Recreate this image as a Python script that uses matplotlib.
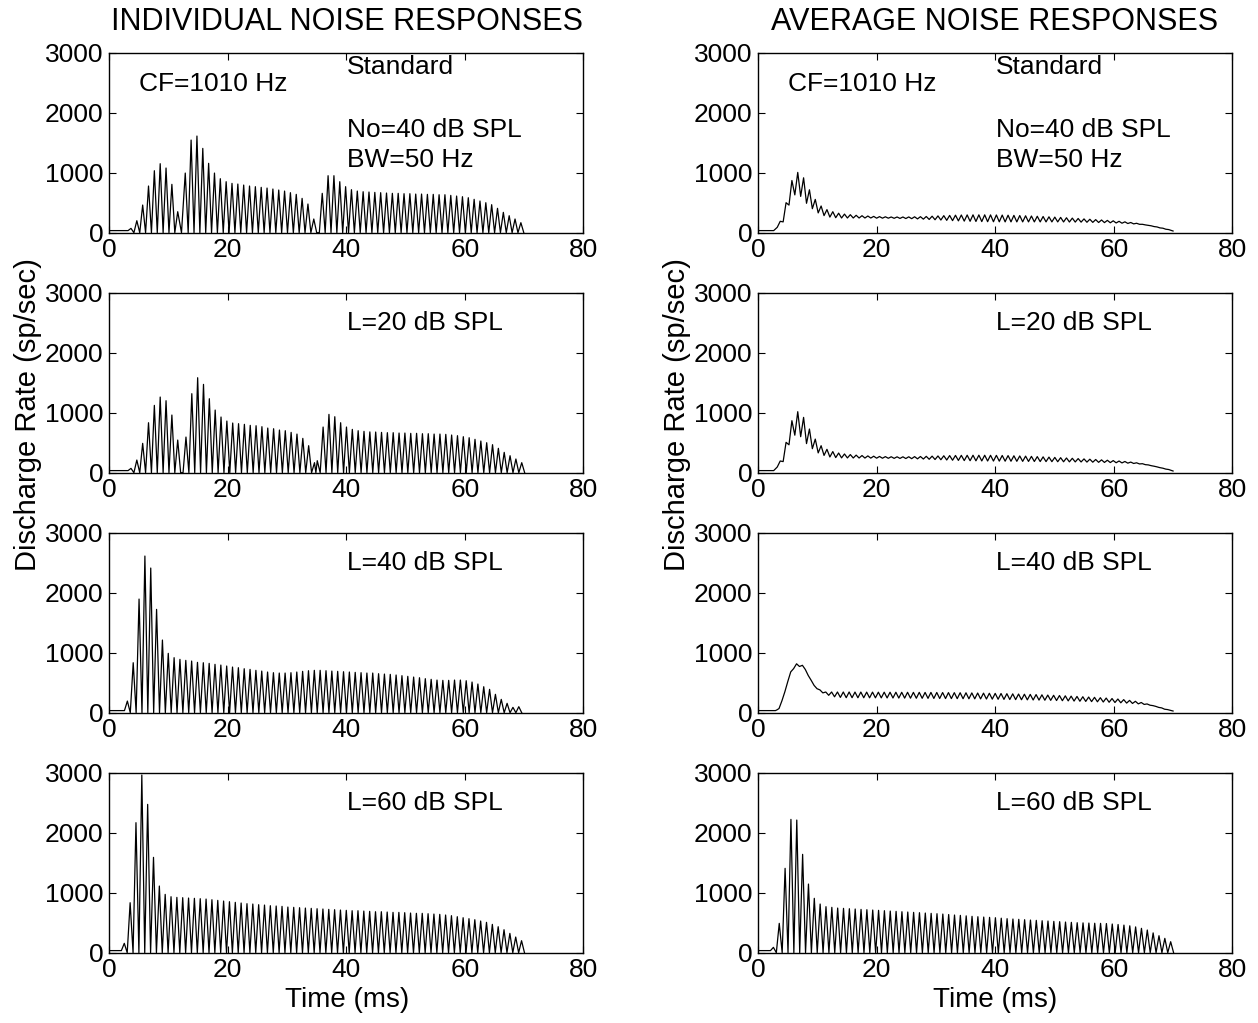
import numpy as np
import matplotlib
matplotlib.use('Agg')
import matplotlib.pyplot as plt

plt.rcParams['font.family'] = ['Liberation Sans', 'DejaVu Sans']

# period of the phase-locked response (CF = 1010 Hz), ms
T = 0.986
spont = 35

# ---- individual noise responses: peak heights per cycle, segment start times
ind_std_t0 = [3.66, 12.82, 35.94]
ind_std = [
    [72, 200, 461, 778, 1033, 1150, 1078, 806, 350],
    [994, 1544, 1611, 1405, 1156, 994, 900, 850, 822, 811, 794, 778, 767, 756,
     744, 728, 711, 694, 667, 639, 572, 478, 228],
    [656, 950, 950, 850, 767, 717, 694, 683, 678, 672, 667, 661, 656, 656, 650,
     650, 644, 644, 639, 639, 633, 633, 622, 611, 600, 583, 556, 528, 500, 467,
     406, 339, 283, 228, 167],
]
ind_20_t0 = [3.66, 12.94, 35.1]
ind_20 = [
    [72, 211, 489, 833, 1122, 1261, 1200, 961, 544],
    [594, 1317, 1583, 1472, 1233, 1044, 928, 861, 828, 817, 806, 789, 783, 767,
     744, 733, 711, 700, 672, 644, 572, 450, 167],
    [200, 761, 972, 933, 833, 761, 722, 700, 689, 680, 678, 672, 667, 667, 661,
     661, 656, 656, 650, 650, 644, 644, 639, 628, 617, 600, 583, 556, 528, 500,
     467, 406, 339, 283, 228, 167],
]
ind_40_t0 = [3.05]
ind_40 = [[194, 833, 1894, 2611, 2411, 1722, 1211, 989, 917, 889,
           872, 861, 839, 833, 822, 806, 794, 778, 761, 750,
           733, 722, 706, 694, 678, 667, 661, 661, 667, 678,
           689, 700, 706, 706, 700, 694, 689, 683, 678, 672,
           667, 661, 661, 650, 644, 639, 628, 617, 606, 594,
           583, 567, 556, 544, 539, 539, 544, 544, 533, 511,
           478, 433, 389, 306, 222, 156, 89, 100]]
ind_60_t0 = [2.53]
ind_60 = [[156, 833, 2167, 2961, 2472, 1589, 1111, 972, 933, 922,
           917, 911, 906, 900, 894, 883, 872, 861, 850, 839,
           828, 817, 811, 800, 794, 783, 778, 772, 761, 756,
           750, 744, 739, 733, 728, 722, 717, 711, 706, 700,
           700, 694, 689, 683, 683, 678, 672, 672, 667, 661,
           656, 656, 650, 644, 639, 628, 617, 600, 583, 567,
           550, 528, 506, 472, 433, 383, 322, 261, 200]]

# ---- average noise responses: ripple peaks and troughs per cycle
avg_std_onset_t = [0, 2.6, 3.2]
avg_std_onset_v = [35, 35, 90]
avg_std_t0 = 3.7
avg_std_pk = [190, 500, 870, 1005, 915, 715, 555, 445, 385, 350,
              325, 310, 300, 290, 283, 278, 272, 268, 265, 262,
              262, 262, 263, 265, 267, 270, 275, 280, 284, 288,
              292, 295, 297, 298, 298, 298, 297, 296, 294, 292,
              289, 286, 282, 278, 274, 270, 265, 260, 255, 249,
              243, 237, 230, 224, 218, 212, 205, 198, 190, 181,
              170, 157, 140, 122, 102, 80, 58]
avg_std_tr = [180, 460, 630, 605, 490, 400, 330, 285, 260, 250,
              245, 245, 245, 245, 245, 245, 242, 242, 242, 240,
              238, 236, 234, 230, 226, 221, 216, 211, 206, 201,
              197, 193, 190, 187, 185, 183, 182, 181, 180, 180,
              180, 180, 180, 180, 180, 180, 180, 180, 179, 178,
              177, 176, 174, 172, 170, 168, 165, 162, 158, 153,
              147, 140, 130, 115, 96, 75, 52]

avg_20_onset_t = [0, 2.6, 3.2]
avg_20_onset_v = [35, 35, 95]
avg_20_t0 = 3.7
avg_20_pk = [195, 506, 867, 1017, 922, 728, 560, 450, 390, 352,
             328, 312, 302, 293, 286, 280, 275, 271, 268, 266,
             265, 265, 266, 268, 270, 273, 276, 279, 282, 285,
             287, 289, 290, 291, 291, 291, 290, 289, 287, 285,
             282, 279, 276, 272, 268, 264, 260, 255, 250, 245,
             240, 235, 230, 225, 220, 214, 208, 202, 195, 187,
             177, 165, 150, 130, 108, 84, 60]
avg_20_tr = [185, 465, 625, 600, 485, 400, 330, 288, 262, 252,
             247, 246, 245, 245, 244, 243, 242, 241, 240, 239,
             238, 236, 234, 231, 228, 224, 220, 216, 212, 208,
             205, 202, 200, 198, 196, 195, 194, 193, 192, 191,
             190, 189, 188, 187, 186, 185, 184, 183, 182, 181,
             180, 179, 177, 175, 173, 171, 169, 166, 163, 159,
             154, 146, 134, 117, 97, 75, 53]

avg_40_onset_t = [0, 2.9, 3.2]
avg_40_onset_v = [35, 35, 50]
avg_40_t0 = 3.5
avg_40_pk = [70, 350, 680, 815, 790, 620, 455, 380, 345, 345,
             345, 345, 345, 344, 344, 343, 343, 342, 342, 341,
             341, 340, 340, 339, 339, 338, 338, 337, 336, 335,
             334, 333, 332, 330, 328, 326, 324, 322, 320, 317,
             314, 311, 308, 305, 302, 298, 294, 290, 286, 281,
             276, 271, 266, 261, 256, 250, 244, 236, 228, 218,
             205, 190, 170, 146, 118, 88, 58]
avg_40_tr = [200, 520, 735, 770, 720, 540, 400, 330, 290, 265,
             255, 250, 250, 249, 249, 248, 248, 247, 246, 245,
             244, 243, 242, 241, 240, 239, 238, 237, 236, 235,
             234, 233, 232, 231, 230, 228, 226, 224, 222, 220,
             218, 216, 214, 212, 210, 208, 206, 203, 200, 197,
             194, 191, 188, 185, 182, 178, 174, 170, 165, 160,
             154, 147, 138, 125, 105, 80, 52]
avg_end = (70.0, 28)

avg_60_t0 = [2.55]
avg_60 = [[89, 489, 1406, 2222, 2211, 1639, 1144, 906, 811, 767,
           756, 744, 739, 733, 728, 722, 717, 711, 706, 700,
           694, 689, 683, 678, 672, 667, 661, 656, 650, 644,
           636, 628, 622, 614, 606, 600, 594, 589, 583, 575,
           567, 561, 556, 550, 544, 539, 533, 528, 522, 517,
           511, 506, 500, 497, 494, 491, 489, 486, 478, 470,
           460, 448, 430, 406, 378, 330, 283, 239, 183]]

panel_labels = [['Standard', 'No=40 dB SPL', 'BW=50 Hz'],
                ['L=20 dB SPL'], ['L=40 dB SPL'], ['L=60 dB SPL']]


def spikes(t0s, segs):
    pt, pv = [], []
    for t0, seg in zip(t0s, segs):
        for k, h in enumerate(seg):
            pt.append(t0 + k * T)
            pv.append(h)
    t = [0, pt[0] - T / 2]
    v = [spont, spont]
    for i in range(len(pt)):
        t.append(pt[i]); v.append(pv[i])
        if i + 1 < len(pt) and pt[i + 1] - pt[i] < 1.3 * T:
            t.append((pt[i] + pt[i + 1]) / 2); v.append(0)
        else:
            t.append(pt[i] + T / 2); v.append(0)
            if i + 1 < len(pt):
                t.append(pt[i + 1] - T / 2); v.append(0)
    return t, v


def ripple(on_t, on_v, t0, pk, tr):
    t, v = list(on_t), list(on_v)
    for k, (p, q) in enumerate(zip(pk, tr)):
        t += [t0 + k * T, t0 + k * T + T / 2]
        v += [p, q]
    t.append(avg_end[0]); v.append(avg_end[1])
    return t, v


left_data = [spikes(ind_std_t0, ind_std), spikes(ind_20_t0, ind_20),
             spikes(ind_40_t0, ind_40), spikes(ind_60_t0, ind_60)]
right_data = [ripple(avg_std_onset_t, avg_std_onset_v, avg_std_t0, avg_std_pk, avg_std_tr),
              ripple(avg_20_onset_t, avg_20_onset_v, avg_20_t0, avg_20_pk, avg_20_tr),
              ripple(avg_40_onset_t, avg_40_onset_v, avg_40_t0, avg_40_pk, avg_40_tr),
              spikes(avg_60_t0, avg_60)]

fig = plt.figure(figsize=(12.58, 10.23), dpi=100)
W, H = 1258, 1023
lefts = [109.3, 758.3]
tops = [52.7, 292.7, 532.7, 772.7]
aw, ah = 474, 180

for col, data in enumerate([left_data, right_data]):
    for row in range(4):
        ax = fig.add_axes([lefts[col] / W, 1 - (tops[row] + ah) / H, aw / W, ah / H])
        t, v = data[row]
        ax.plot(t, v, color='black', lw=0.9)
        ax.set_xlim(0, 80)
        ax.set_ylim(0, 3000)
        ax.set_xticks([0, 20, 40, 60, 80])
        ax.set_yticks([0, 1000, 2000, 3000])
        ax.tick_params(direction='in', top=True, right=True, length=5,
                       width=0.8, labelsize=19, pad=4)
        for s in ax.spines.values():
            s.set_linewidth(1.0)
        labs = panel_labels[row]
        if row == 0:
            ax.text(5.0, 2480, 'CF=1010 Hz', fontsize=19, va='center')
            ax.text(40.1, 2767, labs[0], fontsize=19, va='center')
            ax.text(40.1, 1712, labs[1], fontsize=19, va='center')
            ax.text(40.1, 1212, labs[2], fontsize=19, va='center')
        else:
            ax.text(40.1, 2489, labs[0], fontsize=19, va='center')

fig.text(347 / W, 1 - 22 / H, 'INDIVIDUAL NOISE RESPONSES', ha='center', va='center', fontsize=22)
fig.text(995 / W, 1 - 22 / H, 'AVERAGE NOISE RESPONSES', ha='center', va='center', fontsize=22)
fig.text(347 / W, 1 - 1000 / H, 'Time (ms)', ha='center', va='center', fontsize=20)
fig.text(995 / W, 1 - 1000 / H, 'Time (ms)', ha='center', va='center', fontsize=20)
fig.text(28 / W, 1 - 415 / H, 'Discharge Rate (sp/sec)', ha='center', va='center',
         rotation=90, fontsize=21)
fig.text(677 / W, 1 - 415 / H, 'Discharge Rate (sp/sec)', ha='center', va='center',
         rotation=90, fontsize=21)

fig.savefig('out.png', dpi=100)
